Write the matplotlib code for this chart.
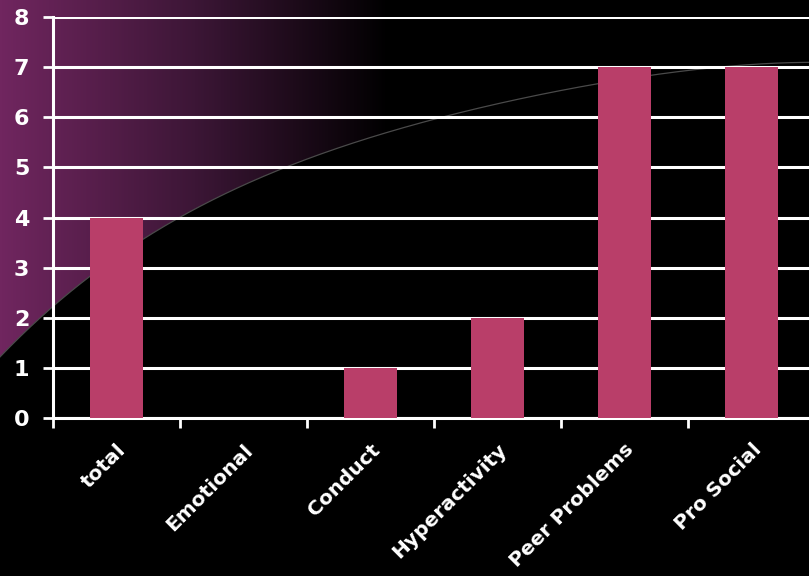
import numpy as np
import matplotlib
matplotlib.use('Agg')
import matplotlib.pyplot as plt
from matplotlib.colors import LinearSegmentedColormap
from matplotlib.patches import Polygon

# 数据
categories = ['total', 'Emotional', 'Conduct', 'Hyperactivity', 'Peer Problems', 'Pro Social']
scores = [4, 0, 1, 2, 7, 7]
y_ticks = [0, 1, 2, 3, 4, 5, 6, 7, 8]

W, H = 809, 576
fig = plt.figure(figsize=(W / 100, H / 100), dpi=100, facecolor='black')

# 背景：左上角紫色渐变，下边界是一条弧线（像素坐标）
bg = fig.add_axes([0, 0, 1, 1], zorder=0)
bg.set_xlim(0, W)
bg.set_ylim(H, 0)
bg.axis('off')

arc_px = [0, 53, 143, 185, 290, 400, 600, 700, 809]
arc_py = [358, 305, 237, 217, 167, 127, 83, 70, 62]
coef = np.polyfit(arc_px, arc_py, 4)
xs = np.linspace(0, W, 400)
arc_y = np.polyval(coef, xs)

cmap = LinearSegmentedColormap.from_list('bg', ['#70265F', '#3c1636', '#000000'])
grad = np.tile(np.clip(np.linspace(0, 1, W) / (390 / W), 0, 1), (H, 1))
im = bg.imshow(grad, cmap=cmap, extent=(0, W, H, 0), aspect='auto', vmin=0, vmax=1)
clip = Polygon(np.vstack([np.column_stack([xs, arc_y]), [[W, 0], [0, 0]]]),
               closed=True, transform=bg.transData)
im.set_clip_path(clip)
bg.plot(xs, arc_y, color='#4a4a4a', lw=0.9)

# 柱状图
ax = fig.add_axes([53 / W, 158 / H, 762 / W, 401 / H], zorder=1)
ax.set_facecolor('none')
x = np.arange(len(categories))
ax.bar(x, scores, width=0.41, color='#B93E69', zorder=3)

ax.set_xlim(-0.5, len(categories) - 0.5)
ax.set_ylim(0, 8)
ax.set_yticks(y_ticks)
ax.yaxis.grid(True, color='white', lw=2.2, zorder=1)
ax.set_axisbelow(True)

ax.set_xticks(np.arange(len(categories) + 1) - 0.5)
ax.set_xticklabels([])
ax.set_xticks(x, minor=True)
ax.set_xticklabels(categories, minor=True, rotation=45, ha='right',
                   rotation_mode='anchor', fontsize=14.5, fontweight='bold', color='white')
ax.tick_params(axis='x', which='minor', length=0, pad=16)
ax.tick_params(axis='x', which='major', length=7, width=2, color='white')
ax.tick_params(axis='y', length=7, width=2, color='white', labelcolor='white',
               labelsize=16, pad=10)
for lab in ax.get_yticklabels():
    lab.set_fontweight('bold')

for s in ['top', 'right']:
    ax.spines[s].set_visible(False)
for s in ['left', 'bottom']:
    ax.spines[s].set_color('white')
    ax.spines[s].set_linewidth(2.2)

plt.savefig('out.png', dpi=100, facecolor='black')
